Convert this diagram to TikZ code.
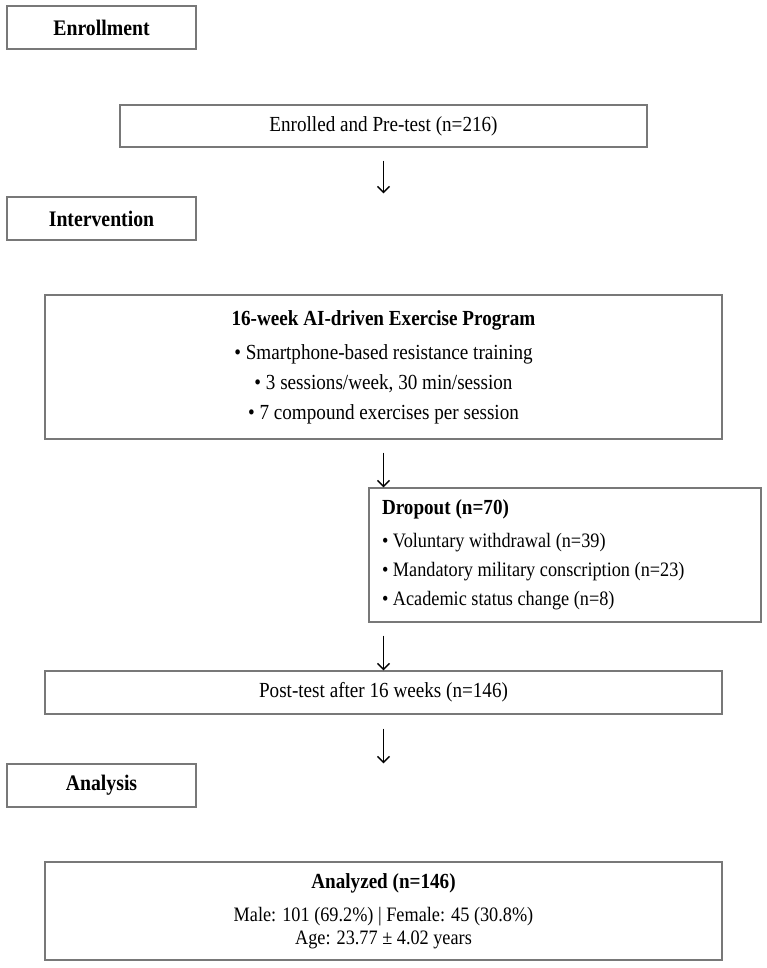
\documentclass[tikz,border=0pt]{standalone}
\usepackage{fontspec}
\setmainfont[FakeStretch=0.89]{Liberation Serif}
\usetikzlibrary{arrows.meta}
\definecolor{boxgray}{RGB}{120,120,120}
\newcommand{\mainsz}{\fontsize{21.5}{23}\selectfont}
\newcommand{\smallsz}{\fontsize{20.5}{23}\selectfont}
\tikzset{
  fbox/.style={draw=boxgray,line width=1.4pt,inner sep=0pt,font=\mainsz},
  stage/.style={fbox,minimum width=189pt,minimum height=43pt,font=\fontsize{22.2}{24}\selectfont\bfseries},
  wide/.style={fbox,minimum width=677pt},
  arr/.style={line width=1.4pt,-{Straight Barb[length=6pt,width=12pt,line width=1.4pt]}}
}
\begin{document}
\begin{tikzpicture}[x=1pt,y=-1pt]
\useasboundingbox (0,0) rectangle (767,968);
\node[stage] (enr) at (101.5,27.5) {Enrollment};
\node[fbox,minimum width=527pt,minimum height=42pt] (pre) at (383.5,126) {Enrolled and Pre-test (n=216)};
\node[stage] (int) at (101.5,218.5) {Intervention};
\node[wide,minimum height=144pt,align=center,font=\fontsize{21.5}{30}\selectfont] (prog) at (383.5,367)
  {\textbf{16-week AI-driven Exercise Program}\\[4pt]
   • Smartphone-based resistance training\\
   • 3 sessions/week, 30 min/session\\
   • 7 compound exercises per session};
\node[fbox,minimum width=392pt,minimum height=134pt,text width=366pt,align=flush left,font=\fontsize{20.5}{29}\selectfont] (drop) at (565,555)
  {{\fontsize{21.5}{29}\selectfont\textbf{Dropout (n=70)}}\\[4pt]
   • Voluntary withdrawal (n=39)\\
   • Mandatory military conscription (n=23)\\
   • Academic status change (n=8)};
\node[wide,minimum height=43pt] (post) at (383.5,692.5) {Post-test after 16 weeks (n=146)};
\node[stage] (ana) at (101.5,785.5) {Analysis};
\node[wide,minimum height=98pt,align=center,font=\smallsz] (res) at (383.5,911)
  {{\mainsz\textbf{Analyzed (n=146)}}\\[10pt]
   Male: 101 (69.2\%) | Female: 45 (30.8\%)\\
   Age: 23.77 ± 4.02 years};
\draw[arr] ([yshift=-13pt]pre.south) -- ([yshift=101pt]prog.north);
\draw[arr] ([yshift=-13pt]prog.south) -- (prog.south |- drop.north);
\draw[arr] ([yshift=-13pt]post.north |- drop.south) -- (post.north);
\draw[arr] ([yshift=-14pt]post.south) -- ([yshift=98pt]res.north);
\end{tikzpicture}
\end{document}
